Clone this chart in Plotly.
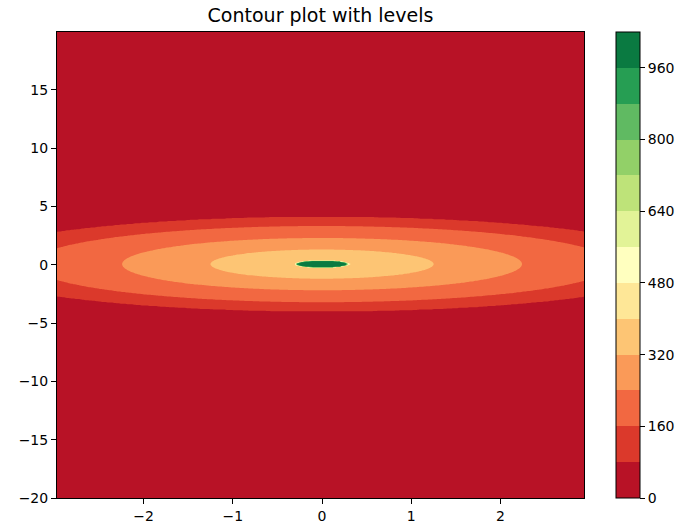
import numpy as np
import plotly.graph_objects as go

# ---- data ----
levels_start = 0
levels_end = 1040
levels_step = 80
cbar_ticks = [0, 160, 320, 480, 640, 800, 960]
x_ticks = [-2, -1, 0, 1, 2]
y_ticks = [-20, -15, -10, -5, 0, 5, 10, 15]

profile_r = [0.0, 0.28, 0.30, 1.25, 2.24, 3.27, 4.05, 8.0, 30.0]
profile_z = [1000, 965, 400, 320, 240, 160, 80, 30, 5]

x_range = [-2.97, 2.935]
y_range = [-20.0, 19.95]

# ---- grid ----
x = np.linspace(x_range[0], x_range[1], 240)
y = np.linspace(y_range[0], y_range[1], 800)
X, Y = np.meshgrid(x, y)
R = np.sqrt(X ** 2 + (Y - 0.05) ** 2)
Z = np.round(np.interp(R, profile_r, profile_z), 1)

# ---- RdYlGn colours for the 13 bands ----
rdylgn = [(165, 0, 38), (215, 48, 39), (244, 109, 67), (253, 174, 97), (254, 224, 139),
          (255, 255, 191), (217, 239, 139), (166, 217, 106), (102, 189, 99), (26, 152, 80),
          (0, 104, 55)]
nb = (levels_end - levels_start) // levels_step
def cmap(t):
    p = t * (len(rdylgn) - 1)
    i = min(int(p), len(rdylgn) - 2)
    f = p - i
    c = [round(rdylgn[i][j] + f * (rdylgn[i + 1][j] - rdylgn[i][j])) for j in range(3)]
    return "rgb(%d,%d,%d)" % tuple(c)
band_colors = [cmap((k + 0.5) / nb) for k in range(nb)]

# contour fill colorscale: band k evaluated at s=(k+1)/(nb+1)
n1 = nb + 1
cs_contour = []
for k in range(nb):
    lo = 0.0 if k == 0 else (k + 0.5) / n1
    hi = 1.0 if k == nb - 1 else (k + 1.5) / n1
    cs_contour.append([lo, band_colors[k]])
    cs_contour.append([hi, band_colors[k]])

# colorbar colorscale: stepped over 0..1040
cs_bar = []
for k in range(nb):
    cs_bar.append([k / nb, band_colors[k]])
    cs_bar.append([(k + 1) / nb, band_colors[k]])

fig = go.Figure()
fig.add_trace(go.Contour(
    x=x, y=y, z=Z,
    contours=dict(start=levels_start, end=levels_end, size=levels_step,
                  coloring="fill", showlines=False),
    line=dict(width=0),
    colorscale=cs_contour, showscale=False, hoverinfo="skip",
))
fig.add_trace(go.Scatter(
    x=[0], y=[0], mode="markers", hoverinfo="skip", showlegend=False,
    marker=dict(color=[0], cmin=levels_start, cmax=levels_end, colorscale=cs_bar,
                size=1, opacity=0, showscale=True,
                colorbar=dict(thickness=24, len=1.0, lenmode="fraction", y=0.5, yanchor="middle",
                              x=1.0607, xanchor="left", xpad=0, ypad=0,
                              outlinewidth=1, outlinecolor="black",
                              tickvals=cbar_ticks, ticks="outside", ticklen=5,
                              tickcolor="black", tickfont=dict(size=14, color="black"))),
))

axis_common = dict(showgrid=False, zeroline=False, ticks="outside", ticklen=5,
                   tickcolor="black", showline=True, linecolor="black", linewidth=1,
                   mirror=True, tickfont=dict(size=14, color="black"))
fig.update_xaxes(range=x_range, tickvals=x_ticks, **axis_common)
fig.update_yaxes(range=y_range, tickvals=y_ticks, **axis_common)

fig.update_layout(
    width=681, height=527,
    margin=dict(l=57, r=97, t=32, b=29, autoexpand=False),
    plot_bgcolor="white", paper_bgcolor="white",
    font=dict(family="DejaVu Sans", color="black"),
    title=dict(text="Contour plot with levels", x=0.5, xref="paper", xanchor="center",
               y=1 - 15 / 527, yref="container", yanchor="middle",
               font=dict(size=19, color="black")),
    showlegend=False,
)
fig.write_html("out.html")
